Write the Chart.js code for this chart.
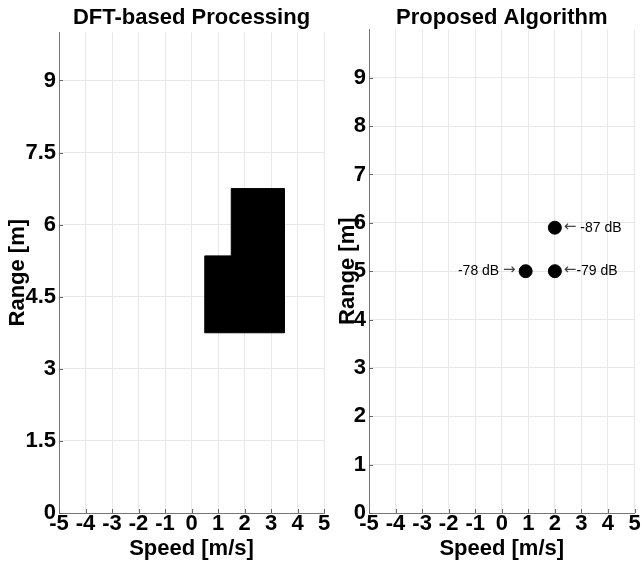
<!DOCTYPE html>
<html>
<head>
<meta charset="utf-8">
<script src="https://cdn.jsdelivr.net/npm/chart.js@4.4.1/dist/chart.umd.min.js"></script>
<style>
    body { margin: 0; background: #fff; width: 642px; height: 564px; position: relative; overflow: hidden; }
    .box { position: absolute; top: 0; height: 564px; }
    #left { left: 0; width: 330px; }
    #right { left: 330px; width: 312px; }
</style>
</head>
<body>
<div class="box" id="left"><canvas id="cvLeft"></canvas></div>
<div class="box" id="right"><canvas id="cvRight"></canvas></div>
<script>
"use strict";

// tick labels
const speedTicks = [-5, -4, -3, -2, -1, 0, 1, 2, 3, 4, 5];
const leftRangeTicks = [0, 1.5, 3, 4.5, 6, 7.5, 9];
const rightRangeTicks = [0, 1, 2, 3, 4, 5, 6, 7, 8, 9];

// DFT-based processing: filled blocks (speed from/to, range from/to)
const blockSpeedFrom = [0.5, 1.5];
const blockSpeedTo = [1.5, 3.5];
const blockRangeFrom = [3.75, 3.75];
const blockRangeTo = [5.35, 6.75];

// proposed algorithm: detected targets
const targetSpeed = [2, 0.9, 2];
const targetRange = [5.9, 5, 5];
const targetLabel = ["\u2190 -87 dB", "-78 dB \u2192", "\u2190-79 dB"];
const labelSide = ["right", "left", "right"];

const FONT = "'Liberation Sans', Arial, Helvetica, sans-serif";
const TEXT_FONT = "14px " + FONT;
const ARROW_FONT = "15px 'DejaVu Sans', sans-serif";

// small inward tick marks like the original plot
const innerTicks = {
    id: "innerTicks",
    afterDraw(chart) {
        let ctx = chart.ctx, a = chart.chartArea;
        ctx.save();
        ctx.strokeStyle = "#666";
        ctx.lineWidth = 1;
        ctx.beginPath();
        chart.scales.x.ticks.forEach(function (t) {
            let px = Math.round(chart.scales.x.getPixelForValue(t.value)) + 0.5;
            ctx.moveTo(px, a.bottom);
            ctx.lineTo(px, a.bottom - 4);
        });
        chart.scales.y.ticks.forEach(function (t) {
            let py = Math.round(chart.scales.y.getPixelForValue(t.value)) + 0.5;
            ctx.moveTo(a.left, py);
            ctx.lineTo(a.left + 4, py);
        });
        ctx.stroke();
        ctx.restore();
    }
};

function isArrow(ch) {
    return ch == "\u2190" || ch == "\u2192";
}

function textWidth(ctx, s) {
    let w = 0;
    for (let ch of s) {
        ctx.font = isArrow(ch) ? ARROW_FONT : TEXT_FONT;
        w += ctx.measureText(ch).width;
    }
    return w;
}

const dotLabels = {
    id: "dotLabels",
    afterDatasetsDraw(chart) {
        let ctx = chart.ctx;
        ctx.save();
        ctx.textBaseline = "middle";
        ctx.textAlign = "left";
        for (let i = 0; i < targetLabel.length; i++) {
            let px = chart.scales.x.getPixelForValue(targetSpeed[i]);
            let py = chart.scales.y.getPixelForValue(targetRange[i]);
            let s = targetLabel[i];
            let x = labelSide[i] == "right" ? px + 9 : px - 10 - textWidth(ctx, s);
            for (let ch of s) {
                ctx.font = isArrow(ch) ? ARROW_FONT : TEXT_FONT;
                ctx.fillStyle = isArrow(ch) ? "#444" : "#000";
                ctx.fillText(ch, x, isArrow(ch) ? py - 1 : py);
                x += ctx.measureText(ch).width;
            }
        }
        ctx.restore();
    }
};

function makeOptions(title, yTicks, yWidth, padRight, titlePad) {
    return {
        responsive: true,
        maintainAspectRatio: false,
        animation: false,
        layout: { padding: { right: padRight, top: 0, left: 0, bottom: 0 } },
        plugins: {
            legend: { display: false },
            tooltip: { enabled: false },
            title: {
                display: true,
                text: title,
                fullSize: false,
                color: "#000",
                font: { family: FONT, size: 22, weight: "bold" },
                padding: titlePad
            }
        },
        scales: {
            x: {
                type: "linear",
                min: -5,
                max: 5,
                afterBuildTicks: function (scale) {
                    scale.ticks = speedTicks.map(v => ({ value: v }));
                },
                afterFit: function (scale) { scale.height = 51; },
                grid: { color: "#e8e8e8", drawTicks: false },
                border: { color: "#777" },
                ticks: {
                    color: "#000",
                    padding: -2,
                    maxRotation: 0,
                    autoSkip: false,
                    font: { family: FONT, size: 22, weight: "bold" }
                },
                title: {
                    display: true,
                    text: "Speed [m/s]",
                    color: "#000",
                    font: { family: FONT, size: 22, weight: "bold" },
                    padding: { top: 0, bottom: 2 }
                }
            },
            y: {
                type: "linear",
                min: 0,
                max: 10,
                afterBuildTicks: function (scale) {
                    scale.ticks = yTicks.map(v => ({ value: v }));
                },
                afterFit: function (scale) { scale.width = yWidth; },
                grid: { color: "#e8e8e8", drawTicks: false },
                border: { color: "#777" },
                ticks: {
                    color: "#000",
                    padding: 3,
                    autoSkip: false,
                    font: { family: FONT, size: 22, weight: "bold" }
                },
                title: {
                    display: true,
                    text: "Range [m]",
                    color: "#000",
                    font: { family: FONT, size: 22, weight: "bold" },
                    padding: { top: 5, bottom: 0 }
                }
            }
        }
    };
}

// left chart: one closed rectangle per block
let blockSets = [];
for (let i = 0; i < blockSpeedFrom.length; i++) {
    blockSets.push({
        data: [
            { x: blockSpeedFrom[i], y: blockRangeFrom[i] },
            { x: blockSpeedFrom[i], y: blockRangeTo[i] },
            { x: blockSpeedTo[i], y: blockRangeTo[i] },
            { x: blockSpeedTo[i], y: blockRangeFrom[i] },
            { x: blockSpeedFrom[i], y: blockRangeFrom[i] }
        ],
        showLine: true,
        fill: "shape",
        backgroundColor: "#000",
        borderColor: "#000",
        borderWidth: 1,
        pointRadius: 0,
        tension: 0
    });
}

new Chart(document.getElementById("cvLeft"), {
    type: "scatter",
    data: { datasets: blockSets },
    options: makeOptions("DFT-based Processing", leftRangeTicks, 59, 6, { top: 5, bottom: 1 }),
    plugins: [innerTicks]
});

let dots = [];
for (let i = 0; i < targetSpeed.length; i++) {
    dots.push({ x: targetSpeed[i], y: targetRange[i] });
}

new Chart(document.getElementById("cvRight"), {
    type: "scatter",
    data: {
        datasets: [{
            data: dots,
            backgroundColor: "#000",
            borderColor: "#000",
            pointRadius: 6.5,
            pointHoverRadius: 6.5
        }]
    },
    options: makeOptions("Proposed Algorithm", rightRangeTicks, 39, 7, { top: 5, bottom: -2 }),
    plugins: [innerTicks, dotLabels]
});
</script>
</body>
</html>
